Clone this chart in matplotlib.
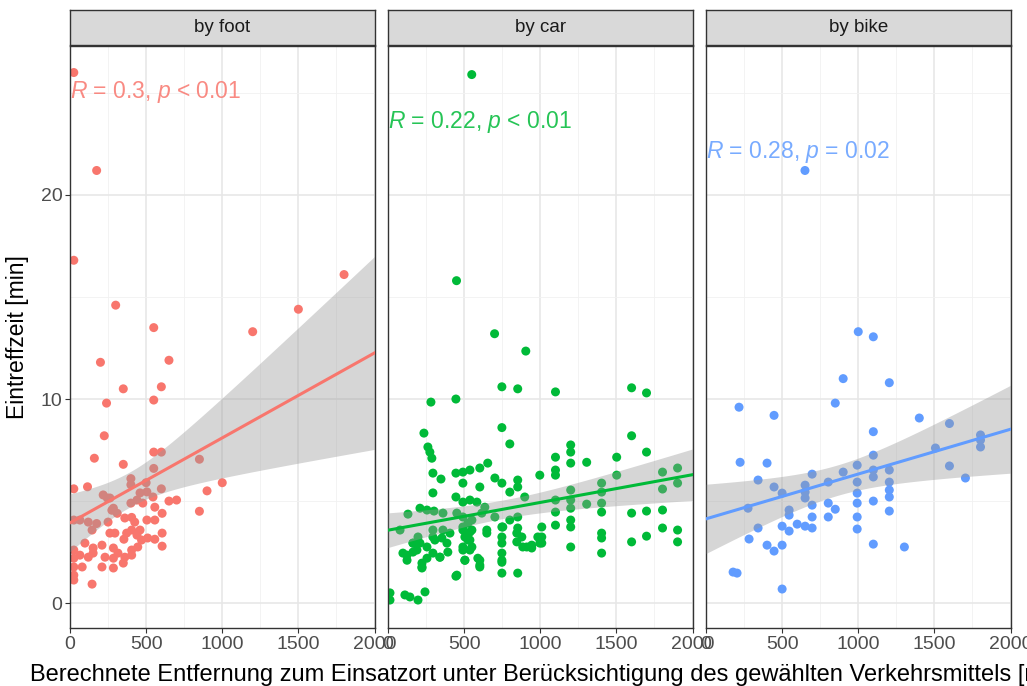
import numpy as np
import matplotlib
matplotlib.use("Agg")
import matplotlib.pyplot as plt
from matplotlib.ticker import MultipleLocator

plt.rcParams["font.family"] = ["Liberation Sans", "DejaVu Sans"]
plt.rcParams["mathtext.fontset"] = "custom"
plt.rcParams["mathtext.rm"] = "Liberation Sans"
plt.rcParams["mathtext.it"] = "Liberation Sans:italic"

# facets
panels = ["by foot", "by car", "by bike"]
colors = ["#F8766D", "#00BA38", "#619CFF"]
r_text = ["0.3", "0.22", "0.28"]
p_text = ["< 0.01", "< 0.01", "= 0.02"]
label_y = [25.05, 23.6, 22.1]

# distance [m] / arrival time [min]
foot_x = [25, 175, 25, 300, 550, 1200, 1500, 1800,
          200, 650, 350, 600, 240, 550, 225, 160, 350, 550, 600, 850, 1000, 900, 850, 650, 700, 25, 115, 550,
          400, 400, 500, 460, 505, 600, 440, 400, 478, 545,
          218, 262, 285, 557, 605, 557, 505,
          25, 65, 120, 175, 145, 250, 310, 275, 360, 405, 425, 460, 405, 510, 557, 605, 262, 295, 354, 605,
          98, 152, 210, 285, 405, 445, 25, 25, 65, 120, 152, 230, 285, 315, 360, 405, 350, 210, 285, 80,
          25, 25, 145, 25, 470, 440, 372, 245]
foot_y = [26.0, 21.2, 16.8, 14.6, 13.5, 13.3, 14.4, 16.1,
          11.8, 11.9, 10.5, 10.6, 9.8, 9.95, 8.2, 7.1, 6.8, 7.4, 7.4, 7.05, 5.9, 5.5, 4.5, 5.0, 5.05, 5.6, 5.7, 6.6,
          6.1, 5.8, 5.9, 5.4, 5.45, 5.6, 5.05, 4.9, 4.9, 5.2,
          5.3, 5.15, 4.65, 4.7, 4.4, 4.07, 4.07,
          4.07, 4.07, 3.97, 3.9, 3.58, 3.97, 4.4, 4.55, 4.17, 4.2, 3.97, 3.58, 3.58, 3.19, 3.13, 3.43, 3.43, 3.43, 3.13, 2.79,
          2.94, 2.7, 2.84, 2.7, 2.6, 2.75, 2.6, 2.2, 2.35, 2.25, 2.45, 2.25, 2.2, 2.45, 2.25, 2.35, 1.96, 1.77, 1.72, 1.77,
          1.37, 1.13, 0.93, 1.77, 3.09, 3.33, 3.43, 5.15]

car_x = [550, 450, 700, 905, 748, 852, 282, 446, 748, 800, 236, 262, 275, 288, 295, 348, 295,
         446, 492, 538, 603, 655, 492, 603, 702, 748, 800, 852, 852, 997,
         446, 492, 538, 584, 636, 898, 131, 210, 256, 302, 361, 452, 492, 551, 616, 702, 800, 852,
         79, 197, 295, 354, 164, 492, 538, 505, 538, 649, 748, 748, 852, 879, 944, 984, 911,
         125, 190, 223, 256, 295, 341, 393, 492, 538, 505, 590, 603, 748, 748, 748, 852, 446,
         13, 13, 111, 197, 243, 144,
         98, 125, 164, 223, 223, 256, 308, 341, 387, 407, 492, 525, 551, 551, 525, 492, 603, 603,
         505, 649, 452, 295, 361, 210, 164, 748, 846, 885, 944, 997, 748, 754, 846,
         1100, 1600, 1698, 1600, 1698, 1200, 1200, 1200, 1100, 1100, 1100, 1305, 1502, 1502,
         1200, 1200, 1200, 1100, 1100, 1100, 1305, 1403, 1403, 1403, 1403, 1403, 1403, 1403,
         1200, 1200, 1200, 1600, 1600, 1698, 1698, 1803, 1803, 1803, 1803, 1902, 1902, 1902, 1902,
         1010, 1010, 1010]
car_y = [25.9, 15.8, 13.2, 12.35, 10.6, 10.5, 9.85, 10.0, 8.6, 7.8, 8.33, 7.65, 7.4, 7.1, 6.37, 6.08, 5.4,
         6.37, 6.42, 6.52, 6.62, 6.86, 5.88, 5.69, 6.13, 5.88, 5.44, 6.03, 5.69, 6.27,
         5.2, 4.95, 5.05, 4.95, 4.7, 5.2, 4.36, 4.65, 4.56, 4.51, 4.41, 4.41, 4.22, 4.07, 4.41, 4.22, 4.07, 4.22,
         3.58, 3.24, 3.24, 3.19, 2.94, 3.58, 3.48, 3.24, 3.09, 3.58, 3.73, 3.24, 3.68, 3.24, 2.84, 3.24, 2.75,
         2.35, 2.6, 1.77, 2.2, 2.45, 2.25, 2.5, 2.75, 2.6, 2.1, 2.2, 1.77, 2.45, 2.0, 1.47, 1.47, 1.32,
         0.5, 0.15, 0.4, 0.15, 0.55, 0.3,
         2.45, 2.1, 2.94, 1.96, 1.72, 2.75, 3.09, 2.25, 2.94, 3.43, 2.6, 3.09, 2.75, 3.58, 3.92, 3.73, 2.1, 1.86,
         2.1, 3.43, 1.37, 3.58, 3.58, 2.94, 2.5, 2.94, 3.0, 2.75, 2.7, 2.94, 2.1, 3.73, 3.43,
         10.35, 10.55, 10.3, 8.2, 7.4, 7.75, 7.4, 6.86, 7.15, 6.52, 6.27, 6.9, 7.15, 6.27,
         5.54, 5.05, 4.65, 5.05, 4.46, 3.82, 4.85, 5.88, 5.44, 4.9, 4.46, 3.43, 3.19, 2.45,
         4.07, 3.73, 2.75, 4.41, 3.0, 4.51, 3.28, 6.42, 5.59, 4.56, 3.68, 6.62, 5.88, 3.58, 3.0,
         3.73, 3.24, 2.94]

bike_x = [650, 1000, 1099, 901, 849, 217, 447, 224, 401, 342, 447, 500, 697, 651, 651, 651, 803, 901, 993,
          276, 546, 546, 697, 697, 803, 849, 803, 342, 500, 546, 599, 651, 697, 283, 401, 447, 500,
          178, 204, 500, 993, 993, 993, 993, 993, 1204, 1401, 1599, 1803, 1803, 1803,
          1099, 1099, 1099, 1099, 1204, 1204, 1204, 1204, 1204, 1507, 1599, 1704, 1099, 1099, 1303]
bike_y = [21.2, 13.3, 13.05, 11.0, 9.8, 9.6, 9.2, 6.9, 6.86, 6.03, 5.69, 5.39, 6.32, 5.78, 5.44, 5.15, 5.93, 6.42, 6.76,
          4.65, 4.56, 4.31, 4.8, 4.22, 4.9, 4.6, 4.22, 3.68, 3.77, 3.53, 3.87, 3.77, 3.68, 3.14, 2.84, 2.55, 2.84,
          1.52, 1.47, 0.69, 5.93, 5.39, 4.9, 4.22, 3.63, 10.8, 9.07, 8.8, 8.24, 7.99, 7.65,
          8.4, 7.25, 6.52, 6.18, 6.52, 5.93, 5.54, 5.2, 4.51, 7.6, 6.72, 6.13, 5.0, 2.89, 2.75]

data = [(foot_x, foot_y), (car_x, car_y), (bike_x, bike_y)]

W, H = 1027, 686
fig = plt.figure(figsize=(W / 100, H / 100), dpi=100)

lefts = [70, 388, 706]
pw = 304.5
ptop, pbot = 46, 628
strip_top = 10

for i, (name, col) in enumerate(zip(panels, colors)):
    x = np.array(data[i][0], dtype=float)
    y = np.array(data[i][1], dtype=float)

    ax = fig.add_axes([lefts[i] / W, (H - pbot) / H, pw / W, (pbot - ptop) / H])
    ax.set_xlim(0, 2000)
    ax.set_ylim(-1.22, 27.3)
    ax.xaxis.set_major_locator(MultipleLocator(500))
    ax.xaxis.set_minor_locator(MultipleLocator(250))
    ax.yaxis.set_major_locator(MultipleLocator(10))
    ax.yaxis.set_minor_locator(MultipleLocator(5))
    ax.grid(True, which="major", color="#E6E6E6", lw=1.1)
    ax.grid(True, which="minor", color="#F1F1F1", lw=0.6)
    ax.set_axisbelow(True)
    for s in ax.spines.values():
        s.set_color("#333333")
        s.set_linewidth(1.0)
    ax.tick_params(which="minor", length=0)
    ax.tick_params(which="major", length=3.5, color="#333333", labelcolor="#4D4D4D", labelsize=14, pad=2)
    if i > 0:
        ax.tick_params(axis="y", left=False, labelleft=False)

    ax.scatter(x, y, s=42, color=col, edgecolors="none", zorder=2)

    # linear fit with 95% band (like geom_smooth(method = "lm"))
    n = len(x)
    b, a = np.polyfit(x, y, 1)
    xs = np.linspace(0, 2000, 200)
    fit = a + b * xs
    resid = y - (a + b * x)
    s_err = np.sqrt(np.sum(resid ** 2) / (n - 2))
    se = s_err * np.sqrt(1 / n + (xs - x.mean()) ** 2 / np.sum((x - x.mean()) ** 2))
    ax.fill_between(xs, fit - 1.98 * se, fit + 1.98 * se, color="#999999", alpha=0.4, lw=0, zorder=3)
    ax.plot(xs, fit, color=col, lw=2.2, zorder=4)

    ax.text(0, label_y[i], rf"$\it{{R}}$ = {r_text[i]}, $\it{{p}}$ {p_text[i]}",
            color=col, alpha=0.85, fontsize=16.5, ha="left", va="center", zorder=5)

    sax = fig.add_axes([lefts[i] / W, (H - ptop + 1) / H, pw / W, (ptop - 1 - strip_top) / H])
    sax.set_facecolor("#D9D9D9")
    sax.set_xticks([])
    sax.set_yticks([])
    for s in sax.spines.values():
        s.set_color("#333333")
        s.set_linewidth(1.0)
    sax.text(0.5, 0.5, name, ha="center", va="center", fontsize=13.5, color="#1A1A1A", transform=sax.transAxes)

fig.text(18 / W, 1 - 337 / H, "Eintreffzeit [min]", rotation=90, ha="center", va="center", fontsize=16.5)
fig.text(540 / W, 1 - 675 / H,
         "Berechnete Entfernung zum Einsatzort unter Berücksichtigung des gewählten Verkehrsmittels [m]",
         ha="center", va="center", fontsize=17)

fig.savefig("out.png", dpi=100)
